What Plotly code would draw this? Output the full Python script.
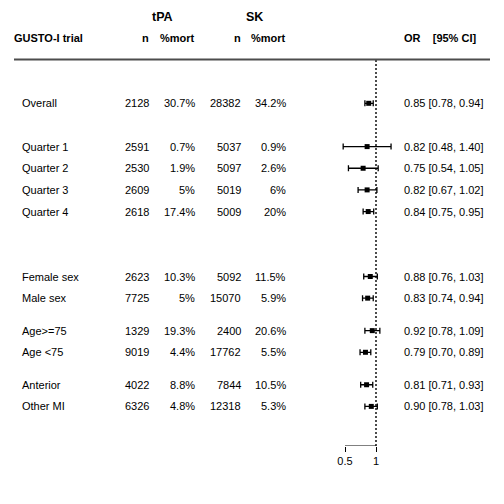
import plotly.graph_objects as go

labels = ["Overall", "Quarter 1", "Quarter 2", "Quarter 3", "Quarter 4",
          "Female sex", "Male sex", "Age&gt;=75", "Age &lt;75", "Anterior", "Other MI"]
tpa_n = [2128, 2591, 2530, 2609, 2618, 2623, 7725, 1329, 9019, 4022, 6326]
tpa_mort = ["30.7%", "0.7%", "1.9%", "5%", "17.4%", "10.3%", "5%", "19.3%", "4.4%", "8.8%", "4.8%"]
sk_n = [28382, 5037, 5097, 5019, 5009, 5092, 15070, 2400, 17762, 7844, 12318]
sk_mort = ["34.2%", "0.9%", "2.6%", "6%", "20%", "11.5%", "5.9%", "20.6%", "5.5%", "10.5%", "5.3%"]
or_est = [0.85, 0.82, 0.75, 0.82, 0.84, 0.88, 0.83, 0.92, 0.79, 0.81, 0.90]
or_lo = [0.78, 0.48, 0.54, 0.67, 0.75, 0.76, 0.74, 0.78, 0.70, 0.71, 0.78]
or_hi = [0.94, 1.40, 1.05, 1.02, 0.95, 1.03, 0.94, 1.09, 0.89, 0.93, 1.03]
rows = [0, 2, 3, 4, 5, 8, 9, 10.5, 11.5, 13, 14]
tick_vals = [0.5, 1]
tick_text = ["0.5", "1"]

W = H = 504
FONT = "Liberation Sans, Arial, Helvetica, sans-serif"
FS = 11
ROW0_PX = 103.3
ROW_PX = 21.65
AXIS_PX = 446
PX_PER_LOG10 = 31 / 0.30103
ONE_PX = 376

def row_of(px):
    return (px - ROW0_PX) / ROW_PX

y_top = row_of(0)
y_bot = row_of(AXIS_PX)
x_lo = -ONE_PX / PX_PER_LOG10
x_hi = (W - ONE_PX) / PX_PER_LOG10

fig = go.Figure()

# reference line at OR = 1
fig.add_trace(go.Scatter(
    x=[1, 1], y=[row_of(60), y_bot], mode="lines",
    line=dict(color="black", width=1.4, dash="2px,2px"),
    hoverinfo="skip", showlegend=False, cliponaxis=False))

# bottom axis line spanning the ticks
fig.add_trace(go.Scatter(
    x=[tick_vals[0], tick_vals[-1]], y=[y_bot, y_bot], mode="lines",
    line=dict(color="black", width=1),
    hoverinfo="skip", showlegend=False, cliponaxis=False))

# estimates with CIs
fig.add_trace(go.Scatter(
    x=or_est, y=rows, mode="markers",
    marker=dict(symbol="square", size=5, color="black"),
    error_x=dict(type="data", symmetric=False,
                 array=[h - e for h, e in zip(or_hi, or_est)],
                 arrayminus=[e - l for e, l in zip(or_est, or_lo)],
                 color="black", thickness=1.3, width=3),
    hoverinfo="skip", showlegend=False, cliponaxis=False))

ann = []
def txt(x_px, y, s, anchor="left", bold=False, size=FS):
    ann.append(dict(x=x_px / W, xref="paper", y=y, yref="y", text=("<b>%s</b>" % s) if bold else s,
                    xanchor=anchor, yanchor="middle", showarrow=False,
                    borderpad=0, borderwidth=0,
                    font=dict(family=FONT, size=size, color="black")))

# headers
txt(162.5, -4, "tPA", "center", True, 12.5)
txt(254, -4, "SK", "center", True, 12.5)
txt(14, -3, "GUSTO-I trial", "left", True)
txt(148.5, -3, "n", "right", True)
txt(194.5, -3, "%mort", "right", True)
txt(240.5, -3, "n", "right", True)
txt(285.5, -3, "%mort", "right", True)
txt(404, -3, "OR\u00a0\u00a0\u00a0\u00a0[95% CI]", "left", True)

for i, r in enumerate(rows):
    txt(22, r, labels[i], "left")
    txt(148.5, r, str(tpa_n[i]), "right")
    txt(194.5, r, tpa_mort[i], "right")
    txt(240.5, r, str(sk_n[i]), "right")
    txt(285.5, r, sk_mort[i], "right")
    txt(404, r, "%.2f [%.2f, %.2f]" % (or_est[i], or_lo[i], or_hi[i]), "left")

shapes = [dict(type="line", xref="paper", yref="paper",
               x0=14 / W, x1=490 / W, y0=1 - 59.5 / H, y1=1 - 59.5 / H,
               line=dict(color="#4d4d4d", width=2))]

fig.update_layout(
    width=W, height=H, margin=dict(l=0, r=0, t=0, b=0),
    paper_bgcolor="white", plot_bgcolor="white",
    annotations=ann, shapes=shapes,
    xaxis=dict(type="log", range=[x_lo, x_hi], domain=[0, 1],
               tickvals=tick_vals, ticktext=tick_text,
               ticks="outside", ticklen=5, tickwidth=1, tickcolor="black",
               tickfont=dict(family=FONT, size=FS, color="black"),
               showgrid=False, zeroline=False, showline=False),
    yaxis=dict(range=[y_bot, y_top], domain=[1 - AXIS_PX / H, 1],
               visible=False, showgrid=False, zeroline=False),
)

fig.write_html("out.html")
